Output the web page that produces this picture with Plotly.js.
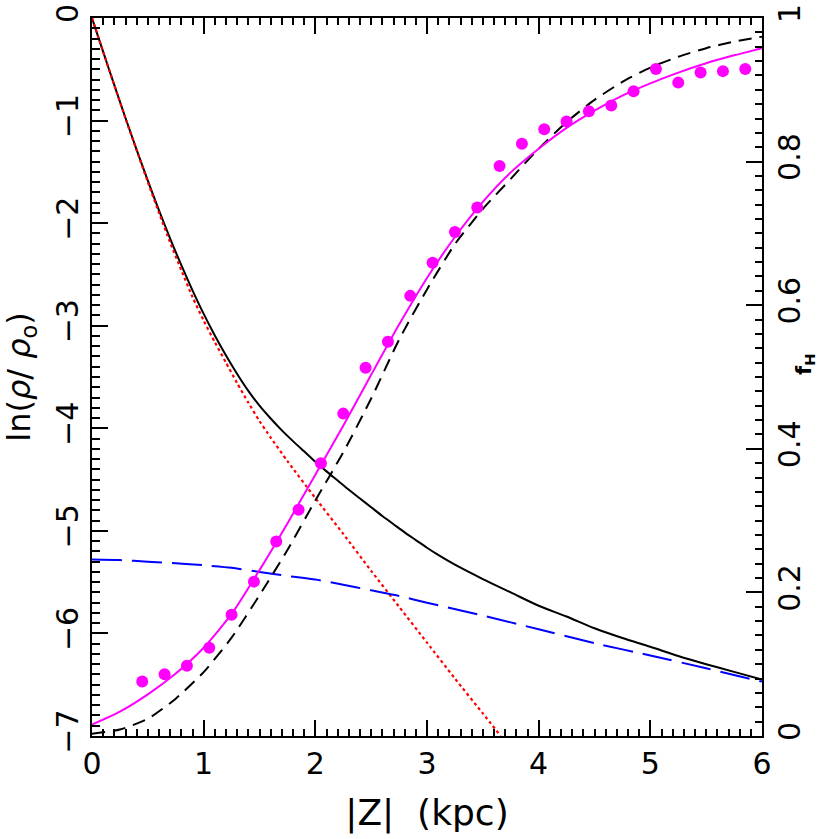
<!DOCTYPE html>
<html>
<head>
<meta charset="utf-8">
<script src="https://cdn.plot.ly/plotly-3.0.1.min.js"></script>
<style>html,body{margin:0;padding:0;background:#fff;}#chart{width:830px;height:839px;}</style>
</head>
<body>
<div id="chart"></div>
<script>
// Total density ln(rho/rho0) (black solid)
const totalX = [0,0.1,0.2,0.3,0.4,0.5,0.6,0.7,0.8,0.9,1.0,1.1,1.2,1.3,1.4,1.5,1.6,1.7,1.8,1.9,2.0,2.1,2.2,2.3,2.4,2.5,2.6,2.7,2.8,2.9,3.0,3.1,3.25,3.5,3.75,4.0,4.25,4.5,4.75,5.0,5.25,5.5,5.75,6.0];
const totalY = [0,-0.33,-0.655,-0.975,-1.285,-1.585,-1.875,-2.15,-2.41,-2.655,-2.885,-3.095,-3.29,-3.47,-3.635,-3.78,-3.905,-4.02,-4.125,-4.225,-4.325,-4.42,-4.51,-4.60,-4.685,-4.77,-4.855,-4.935,-5.015,-5.09,-5.165,-5.235,-5.33,-5.47,-5.60,-5.73,-5.835,-5.95,-6.045,-6.13,-6.22,-6.30,-6.375,-6.45];
// Disk component (red dotted)
const diskX = [0,0.1,0.2,0.3,0.4,0.5,0.6,0.7,0.8,0.9,1.0,1.1,1.2,1.3,1.4,1.5,1.6,1.75,2.0,2.25,2.5,2.75,3.0,3.25,3.5,3.66];
const diskY = [0,-0.33,-0.655,-0.98,-1.29,-1.60,-1.90,-2.19,-2.46,-2.72,-2.95,-3.16,-3.36,-3.56,-3.75,-3.93,-4.09,-4.32,-4.68,-5.03,-5.39,-5.74,-6.09,-6.44,-6.78,-7.0];
// Halo component (blue long dash)
const haloX = [0,0.25,0.5,0.75,1.0,1.25,1.5,1.75,2.0,2.25,2.5,2.75,3.0,3.5,4.0,4.5,5.0,5.5,6.0];
const haloY = [-5.28,-5.285,-5.30,-5.315,-5.335,-5.36,-5.40,-5.44,-5.475,-5.525,-5.58,-5.635,-5.70,-5.825,-5.96,-6.095,-6.215,-6.34,-6.47];
// f_H fit (magenta solid)
const fitX = [0,0.25,0.5,0.75,1.0,1.25,1.5,1.75,2.0,2.25,2.5,2.75,3.0,3.25,3.5,3.75,4.0,4.25,4.5,4.75,5.0,5.25,5.5,5.75,6.0];
const fitY = [0.016,0.034,0.058,0.087,0.123,0.170,0.231,0.296,0.364,0.432,0.503,0.573,0.638,0.695,0.744,0.785,0.818,0.847,0.871,0.892,0.909,0.924,0.937,0.948,0.958];
// f_H model (black dashed)
const modelX = [0,0.25,0.5,0.75,1.0,1.25,1.5,1.75,2.0,2.25,2.5,2.75,3.0,3.25,3.5,3.75,4.0,4.25,4.5,4.75,5.0,5.25,5.5,5.75,6.0];
const modelY = [0.003,0.009,0.024,0.052,0.089,0.137,0.196,0.259,0.328,0.395,0.470,0.552,0.622,0.685,0.734,0.776,0.818,0.855,0.886,0.911,0.931,0.946,0.958,0.967,0.974];
// f_H data points (magenta dots)
const ptsX = [0.45,0.65,0.85,1.05,1.25,1.45,1.65,1.85,2.05,2.25,2.45,2.65,2.85,3.05,3.25,3.45,3.65,3.85,4.05,4.25,4.45,4.65,4.85,5.05,5.25,5.45,5.65,5.85];
const ptsY = [0.076,0.086,0.098,0.123,0.169,0.215,0.271,0.315,0.380,0.449,0.513,0.549,0.613,0.659,0.702,0.736,0.794,0.825,0.845,0.856,0.870,0.878,0.898,0.929,0.910,0.924,0.926,0.929];

const traces = [
  {x: totalX, y: totalY, mode:'lines', line:{color:'#000', width:2, shape:'spline', smoothing:0.8}, xaxis:'x', yaxis:'y'},
  {x: diskX, y: diskY, mode:'lines', line:{color:'#ff0000', width:2.2, dash:'dot', shape:'spline', smoothing:0.6}, xaxis:'x', yaxis:'y'},
  {x: haloX, y: haloY, mode:'lines', line:{color:'#0000ff', width:2, dash:'30px,10px', shape:'spline', smoothing:0.6}, xaxis:'x', yaxis:'y'},
  {x: modelX, y: modelY, mode:'lines', line:{color:'#000', width:2, dash:'13px,8px', shape:'spline', smoothing:0.6}, xaxis:'x', yaxis:'y2'},
  {x: fitX, y: fitY, mode:'lines', line:{color:'#ff00ff', width:2, shape:'spline', smoothing:0.6}, xaxis:'x', yaxis:'y2'},
  {x: ptsX, y: ptsY, mode:'markers', marker:{color:'#ff00ff', size:12}, xaxis:'x', yaxis:'y3'}
];

const tickFont = {family:'DejaVu Sans, sans-serif', size:30, color:'#000'};
const layout = {
  width:830, height:839,
  margin:{l:92, r:68, t:18, b:103},
  showlegend:false,
  xaxis:{range:[0,6], dtick:1, ticks:'inside', ticklen:16, tickwidth:2, tickcolor:'#000',
         minor:{dtick:0.1, ticks:'inside', ticklen:7, tickwidth:2, tickcolor:'#000'},
         showline:true, linewidth:2, linecolor:'#000', mirror:'ticks', showgrid:false, zeroline:false,
         layer:'above traces', tickfont:tickFont,
         title:{text:'|Z|  (kpc)', font:{family:'DejaVu Sans, sans-serif', size:36, color:'#000'}, standoff:20}},
  yaxis:{range:[-7,0], dtick:1, ticks:'inside', ticklen:16, tickwidth:2, tickcolor:'#000',
         minor:{dtick:0.1, ticks:'inside', ticklen:8, tickwidth:2, tickcolor:'#000'},
         showline:true, linewidth:2, linecolor:'#000', showgrid:false, zeroline:false,
         layer:'above traces', tickangle:-90, tickfont:tickFont,
         title:{text:'ln(<i>ρ</i>/ <i>ρ</i><sub>o</sub>)', font:{family:'DejaVu Sans, sans-serif', size:32, color:'#000'}, standoff:10}},
  yaxis2:{range:[0,1], dtick:0.2, ticks:'inside', ticklen:16, tickwidth:2, tickcolor:'#000',
         overlaying:'y', side:'right', anchor:'x',
         showline:true, linewidth:2, linecolor:'#000', showgrid:false, zeroline:false,
         layer:'above traces', tickangle:-90, tickfont:tickFont},
  yaxis3:{range:[0,1], dtick:0.02, ticks:'inside', ticklen:7, tickwidth:2, tickcolor:'#000',
         overlaying:'y', side:'right', anchor:'x', showticklabels:false,
         showline:false, showgrid:false, zeroline:false, layer:'above traces'},
  annotations:[
    {text:'<b>f</b><sub><b>H</b></sub>', xref:'paper', yref:'paper', x:1.064, y:0.518, xanchor:'center', yanchor:'middle', textangle:-90, showarrow:false,
     font:{family:'DejaVu Sans, sans-serif', size:21, color:'#000'}}
  ]
};

// Bring the library-drawn axis layers (ticks, lines) to the front after rendering.
function raiseAxisLayers(){
  try {
    var root = document.getElementById('chart');
    root.querySelectorAll('path.xtick, path.ytick, path.y2tick, path.y3tick').forEach(function(p){
      p.style.display = ''; p.style.visibility = 'visible'; p.style.opacity = '1';
    });
    var svg = root.querySelector('svg.main-svg');
    if (!svg) return;
    root.querySelectorAll('g.xlines-above, g.ylines-above, g.xaxislayer-above, g.yaxislayer-above').forEach(function(g){
      svg.appendChild(g);
    });
  } catch(e) {}
}
Plotly.newPlot('chart', traces, layout, {displayModeBar:false}).then(function(){
  raiseAxisLayers();
  setTimeout(raiseAxisLayers, 150);
  setTimeout(raiseAxisLayers, 600);
});
</script>
</body>
</html>
